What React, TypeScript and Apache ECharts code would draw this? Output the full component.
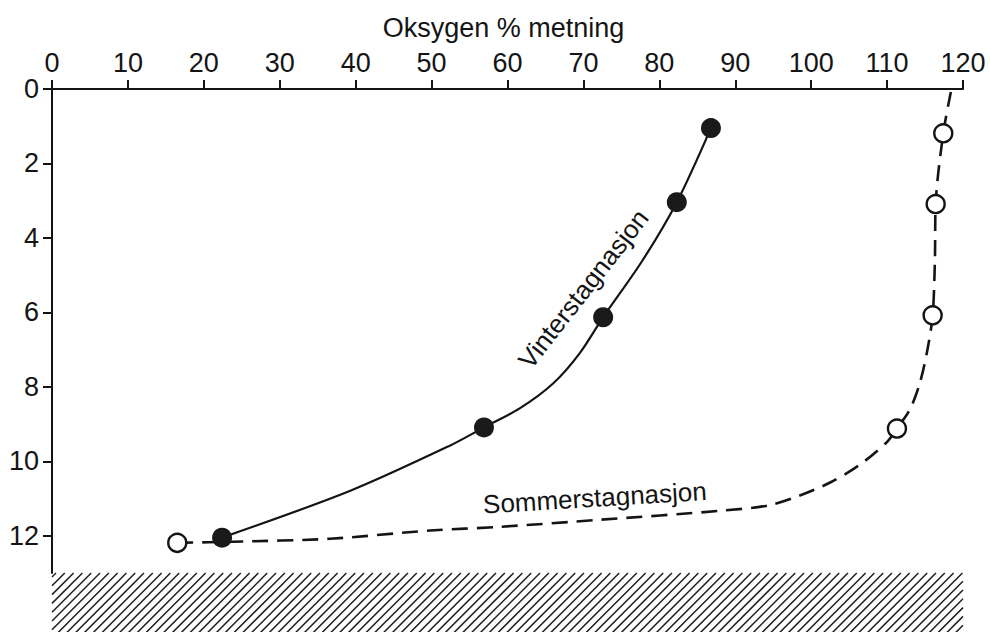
import React, { useEffect, useRef } from "react";
import * as echarts from "echarts";

// Axis ticks
const oxygenTicks = [0, 10, 20, 30, 40, 50, 60, 70, 80, 90, 100, 110, 120];
const depthTicks = [0, 2, 4, 6, 8, 10, 12];

// Measured points (oxygen % saturation vs depth m)
const vinterOxygen = [86.8, 82.3, 72.6, 56.9, 22.4];
const vinterDepth = [1.05, 3.04, 6.13, 9.09, 12.05];
const sommerOxygen = [117.4, 116.4, 116.0, 111.3, 16.5];
const sommerDepth = [1.19, 3.09, 6.08, 9.12, 12.19];

// Hand-drawn curves
const vinterCurveOxygen = [22.4, 39.3, 52.4, 56.9, 61.6, 66.0, 69.5, 72.6, 77.8, 82.3, 86.8];
const vinterCurveDepth = [12.05, 10.79, 9.58, 9.09, 8.58, 7.91, 7.1, 6.13, 4.6, 3.04, 1.05];
const sommerCurveOxygen = [16.5, 23.8, 36.6, 49.8, 59.0, 72.2, 88.0, 94.2, 98.1, 102.5, 106.4, 109.9, 111.3, 113.0, 114.3, 115.3, 116.0, 116.3, 116.4, 117.4, 118.4];
const sommerCurveDepth = [12.19, 12.16, 12.08, 11.86, 11.76, 11.57, 11.33, 11.19, 10.95, 10.57, 10.09, 9.5, 9.12, 8.61, 7.91, 7.02, 6.08, 4.6, 3.09, 1.19, 0.08];

// Curve labels (data position)
const curveLabels = ["Vinterstagnasjon", "Sommerstagnasjon"];
const curveLabelOxygen = [70.0, 71.5];
const curveLabelDepth = [5.37, 10.98];
const curveLabelAngle = [52, 3.5];

const axisTitle = "Oksygen % metning";
const bottomDepth = 13;

const FONT = '"Liberation Sans", Arial, Helvetica, sans-serif';
const INK = "#141414";

const zip = (a: number[], b: number[]) => a.map((v, i) => [v, b[i]]);

export default function App() {
  const ref = useRef<HTMLDivElement>(null);

  useEffect(() => {
    if (!ref.current) return;
    const chart = echarts.init(ref.current, undefined, { renderer: "svg" });

    const option: any = {
      animation: false,
      backgroundColor: "#ffffff",
      grid: { left: 52, top: 89, width: 911, height: 484, containLabel: false },
      xAxis: {
        type: "value",
        position: "top",
        min: oxygenTicks[0],
        max: oxygenTicks[oxygenTicks.length - 1],
        interval: 10,
        axisLine: { show: true, onZero: false, lineStyle: { color: INK, width: 2 } },
        axisTick: { show: true, inside: false, length: 9, lineStyle: { color: INK, width: 2 } },
        axisLabel: { color: INK, fontSize: 27, fontFamily: FONT, margin: 13 },
        splitLine: { show: false },
      },
      yAxis: {
        type: "value",
        inverse: true,
        min: 0,
        max: bottomDepth,
        axisLine: { show: true, onZero: false, lineStyle: { color: INK, width: 2 } },
        axisTick: {
          show: true,
          inside: false,
          length: 9,
          lineStyle: { color: INK, width: 2 },
          customValues: depthTicks,
        },
        axisLabel: {
          color: INK,
          fontSize: 27,
          fontFamily: FONT,
          margin: 13,
          customValues: depthTicks,
        },
        splitLine: { show: false },
      },
      series: [
        {
          name: "Vinterstagnasjon kurve",
          type: "line",
          data: zip(vinterCurveOxygen, vinterCurveDepth),
          smooth: 0.3,
          showSymbol: false,
          lineStyle: { color: INK, width: 2.2 },
          z: 2,
        },
        {
          name: "Sommerstagnasjon kurve",
          type: "line",
          data: zip(sommerCurveOxygen, sommerCurveDepth),
          smooth: 0.3,
          showSymbol: false,
          lineStyle: { color: INK, width: 2.6, type: [16, 9] },
          z: 2,
        },
        {
          name: "Vinterstagnasjon",
          type: "scatter",
          data: zip(vinterOxygen, vinterDepth),
          symbol: "circle",
          symbolSize: 20,
          itemStyle: { color: "#1a1a1a", opacity: 1 },
          z: 3,
        },
        {
          name: "Sommerstagnasjon",
          type: "scatter",
          data: zip(sommerOxygen, sommerDepth),
          symbol: "circle",
          symbolSize: 18,
          itemStyle: { color: "#ffffff", borderColor: INK, borderWidth: 2.4, opacity: 1 },
          z: 3,
        },
      ],
    };
    chart.setOption(option);

    const toPx = (x: number, y: number) => chart.convertToPixel({ gridIndex: 0 }, [x, y]) as number[];

    // hatched bottom (sediment)
    const [hx0, hy0] = toPx(oxygenTicks[0], bottomDepth);
    const [hx1] = toPx(oxygenTicks[oxygenTicks.length - 1], bottomDepth);
    const hy1 = 640;
    const hatch: any[] = [];
    const step = 8.8;
    for (let c = hx0 + hy0 + 4; c < hx1 + hy1; c += step) {
      const xa = Math.max(hx0, c - hy1);
      const xb = Math.min(hx1, c - hy0);
      if (xb - xa > 0.5) {
        hatch.push({
          type: "line",
          shape: { x1: xa, y1: c - xa, x2: xb, y2: c - xb },
          style: { stroke: "#1e1e1e", lineWidth: 1.5 },
          silent: true,
        });
      }
    }

    const labels = curveLabels.map((t, i) => {
      const [lx, ly] = toPx(curveLabelOxygen[i], curveLabelDepth[i]);
      return {
        type: "text",
        x: lx,
        y: ly,
        rotation: (curveLabelAngle[i] * Math.PI) / 180,
        style: {
          text: t,
          fill: INK,
          font: `26px ${FONT}`,
          fontSize: 26,
          fontFamily: FONT,
          align: "center",
          verticalAlign: "middle",
          textAlign: "center",
          textVerticalAlign: "middle",
        },
        z: 10,
      };
    });

    const [tx] = toPx(60, 0);
    chart.setOption({
      graphic: [
        { type: "group", children: hatch },
        ...labels,
        {
          type: "text",
          x: tx - 4,
          y: 28,
          style: {
            text: axisTitle,
            fill: INK,
            font: `27px ${FONT}`,
            fontSize: 27,
            fontFamily: FONT,
            align: "center",
            verticalAlign: "middle",
            textAlign: "center",
            textVerticalAlign: "middle",
          },
        },
      ],
    });

    return () => chart.dispose();
  }, []);

  return (
    <div
      ref={ref}
      style={{ position: "fixed", left: 0, top: 0, width: 990, height: 632, background: "#fff" }}
    />
  );
}
